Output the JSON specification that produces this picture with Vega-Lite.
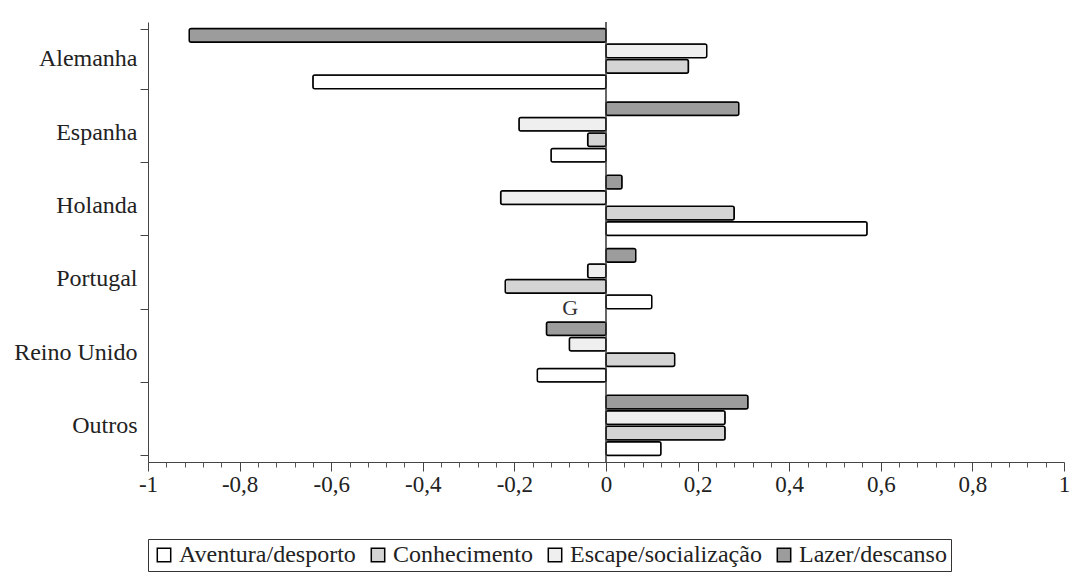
{
  "$schema": "https://vega.github.io/schema/vega-lite/v6.json",
  "autosize": "none",
  "width": 916,
  "height": 440,
  "padding": {"left": 148, "top": 22, "right": 10, "bottom": 118},
  "background": "white",
  "config": {
    "font": "Liberation Serif",
    "view": {"stroke": null},
    "axis": {"labelFont": "Liberation Serif"},
    "legend": {"labelFont": "Liberation Serif"}
  },
  "resolve": {"axis": {"x": "independent"}},
  "layer": [
    {
      "data": {
        "values": [
          {"pais": "Alemanha", "motivo": "Aventura/desporto", "valor": -0.64},
          {"pais": "Alemanha", "motivo": "Conhecimento", "valor": 0.18},
          {"pais": "Alemanha", "motivo": "Escape/socialização", "valor": 0.22},
          {"pais": "Alemanha", "motivo": "Lazer/descanso", "valor": -0.91},
          {"pais": "Espanha", "motivo": "Aventura/desporto", "valor": -0.12},
          {"pais": "Espanha", "motivo": "Conhecimento", "valor": -0.04},
          {"pais": "Espanha", "motivo": "Escape/socialização", "valor": -0.19},
          {"pais": "Espanha", "motivo": "Lazer/descanso", "valor": 0.29},
          {"pais": "Holanda", "motivo": "Aventura/desporto", "valor": 0.57},
          {"pais": "Holanda", "motivo": "Conhecimento", "valor": 0.28},
          {"pais": "Holanda", "motivo": "Escape/socialização", "valor": -0.23},
          {"pais": "Holanda", "motivo": "Lazer/descanso", "valor": 0.035},
          {"pais": "Portugal", "motivo": "Aventura/desporto", "valor": 0.1},
          {"pais": "Portugal", "motivo": "Conhecimento", "valor": -0.22},
          {"pais": "Portugal", "motivo": "Escape/socialização", "valor": -0.04},
          {"pais": "Portugal", "motivo": "Lazer/descanso", "valor": 0.065},
          {"pais": "Reino Unido", "motivo": "Aventura/desporto", "valor": -0.15},
          {"pais": "Reino Unido", "motivo": "Conhecimento", "valor": 0.15},
          {"pais": "Reino Unido", "motivo": "Escape/socialização", "valor": -0.08},
          {"pais": "Reino Unido", "motivo": "Lazer/descanso", "valor": -0.13},
          {"pais": "Outros", "motivo": "Aventura/desporto", "valor": 0.12},
          {"pais": "Outros", "motivo": "Conhecimento", "valor": 0.26},
          {"pais": "Outros", "motivo": "Escape/socialização", "valor": 0.26},
          {"pais": "Outros", "motivo": "Lazer/descanso", "valor": 0.31}
        ]
      },
      "mark": {"type": "bar", "stroke": "black", "strokeWidth": 1.5, "cornerRadius": 2},
      "encoding": {
        "y": {
          "field": "pais", "type": "nominal",
          "sort": ["Alemanha", "Espanha", "Holanda", "Portugal", "Reino Unido", "Outros"],
          "scale": {"paddingInner": 0.18, "paddingOuter": 0.09},
          "axis": {
            "title": null, "labelFont": "Liberation Serif", "labelFontSize": 24,
            "labelColor": "#222", "domainColor": "#444", "tickColor": "#444",
            "tickBand": "extent", "tickSize": 8, "labelPadding": 3, "labelLimit": 200
          }
        },
        "yOffset": {
          "field": "motivo", "type": "nominal",
          "sort": ["Lazer/descanso", "Escape/socialização", "Conhecimento", "Aventura/desporto"],
          "scale": {"paddingInner": 0.12}
        },
        "x": {
          "field": "valor", "type": "quantitative",
          "scale": {"domain": [-1, 1], "nice": false, "zero": false},
          "axis": {
            "title": null, "orient": "bottom",
            "values": [-1, -0.8, -0.6, -0.4, -0.2, 0, 0.2, 0.4, 0.6, 0.8, 1],
            "grid": false, "labelFont": "Liberation Serif", "labelFontSize": 23,
            "labelColor": "#222", "domainColor": "#444", "tickColor": "#444",
            "tickSize": 9, "labelPadding": 2, "labelFlush": false,
            "labelExpr": "(datum.value < 0 ? '-' : '') + replace(format(abs(datum.value), '.1~f'), '.', ',')"
          }
        },
        "fill": {
          "field": "motivo", "type": "nominal",
          "scale": {
            "domain": ["Aventura/desporto", "Conhecimento", "Escape/socialização", "Lazer/descanso"],
            "range": ["#ffffff", "#d4d4d4", "#efefef", "#9c9c9c"]
          },
          "legend": {
            "title": null, "orient": "none", "direction": "horizontal",
            "legendX": 0, "legendY": 517,
            "labelFont": "Liberation Serif", "labelFontSize": 24, "labelColor": "#222",
            "labelLimit": 400,
            "symbolType": "square", "symbolSize": 180, "symbolStrokeColor": "black",
            "symbolStrokeWidth": 1.5, "columnPadding": 10, "labelOffset": 3,
            "strokeColor": "#333", "padding": 4
          }
        }
      }
    },
    {
      "data": {"values": [{"x": 0}]},
      "mark": {"type": "rule", "color": "#333", "strokeWidth": 1.5},
      "encoding": {
        "x": {
          "field": "x", "type": "quantitative",
          "axis": {
            "title": null, "orient": "bottom", "labels": false, "domain": false, "grid": false,
            "tickColor": "#555", "tickSize": 5,
            "values": [-0.96, -0.92, -0.88, -0.84, -0.76, -0.72, -0.68, -0.64, -0.56, -0.52, -0.48, -0.44, -0.36, -0.32, -0.28, -0.24, -0.16, -0.12, -0.08, -0.04, 0.04, 0.08, 0.12, 0.16, 0.24, 0.28, 0.32, 0.36, 0.44, 0.48, 0.52, 0.56, 0.64, 0.68, 0.72, 0.76, 0.84, 0.88, 0.92, 0.96]
          }
        }
      }
    },
    {
      "data": {"values": [{"x": -0.078, "pais": "Portugal", "t": "G"}]},
      "mark": {"type": "text", "fontSize": 22, "font": "Liberation Serif", "color": "#333", "dy": 29},
      "encoding": {
        "x": {"field": "x", "type": "quantitative", "axis": null},
        "y": {
          "field": "pais", "type": "nominal",
          "sort": ["Alemanha", "Espanha", "Holanda", "Portugal", "Reino Unido", "Outros"]
        },
        "text": {"field": "t"}
      }
    }
  ]
}
